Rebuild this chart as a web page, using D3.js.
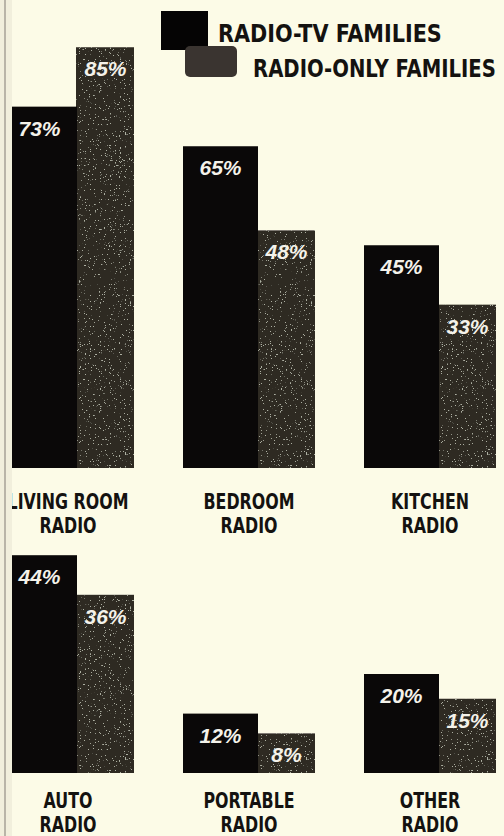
<!DOCTYPE html>
<html>
<head>
<meta charset="utf-8">
<script src="https://cdn.jsdelivr.net/npm/d3@7"></script>
<style>
  html, body { margin: 0; padding: 0; background: #fcfbe7; }
  svg { display: block; }
  .legend-label { font-family: "Liberation Sans Narrow", "DejaVu Sans Condensed", sans-serif; font-weight: bold; font-size: 25px; fill: #141210; }
  .cat-label { font-family: "Liberation Sans Narrow", "DejaVu Sans Condensed", sans-serif; font-weight: bold; font-size: 21px; fill: #141210; }
  .value-label { font-family: "Liberation Sans", Arial, sans-serif; font-style: italic; font-weight: bold; font-size: 21px; fill: #f4f2ea; }
</style>
</head>
<body>
<svg id="chart"></svg>
<script>
const WIDTH = 504;
const HEIGHT = 836;

// Valores (porcentaje de familias)
const categories = ['LIVING ROOM', 'BEDROOM', 'KITCHEN', 'AUTO', 'PORTABLE', 'OTHER'];
const categorySuffix = 'RADIO';
const radioTv = [73, 65, 45, 44, 12, 20];
const radioOnly = [85, 48, 33, 36, 8, 15];
const seriesNames = ['RADIO-TV FAMILIES', 'RADIO-ONLY FAMILIES'];

const COLOR_TV = '#0a0808';
const COLOR_ONLY = '#2f2924';
const TV_WIDTH = 75;
const ONLY_WIDTH = 57;
const ROW_BASELINES = [468, 773];
// la fila de abajo queda casi recortada por el borde de la página
const LABEL_LINES = [[41, 65], [35, 59]];

const svg = d3.select('#chart').attr('width', WIDTH).attr('height', HEIGHT);

svg.append('rect').attr('width', WIDTH).attr('height', HEIGHT).attr('fill', '#fcfbe7');

// Grano ligero del papel impreso sobre las barras de "radio only".
const defs = svg.append('defs');
const grain = defs.append('filter').attr('id', 'grain').attr('x', 0).attr('y', 0).attr('width', 1).attr('height', 1);
grain.append('feTurbulence').attr('type', 'fractalNoise').attr('baseFrequency', 0.8).attr('numOctaves', 2).attr('seed', 4).attr('result', 'noise');
grain.append('feColorMatrix').attr('in', 'noise').attr('type', 'matrix')
  .attr('values', '0 0 0 0 0.42  0 0 0 0 0.43  0 0 0 0 0.36  0 0 0 -20 6.4')
  .attr('result', 'specks');
grain.append('feComposite').attr('in', 'specks').attr('in2', 'SourceGraphic').attr('operator', 'in').attr('result', 'clipped');
const merge = grain.append('feMerge');
merge.append('feMergeNode').attr('in', 'SourceGraphic');
merge.append('feMergeNode').attr('in', 'clipped');

const col = d3.scalePoint().domain([0, 1, 2]).range([68, 430]);
// altura en píxeles por porcentaje
const h = d3.scaleLinear().domain([0, 100]).range([0, 495]);

const rows = categories.map((name, i) => ({
  name,
  row: Math.floor(i / 3),
  col: i % 3,
  tv: radioTv[i],
  only: radioOnly[i]
}));

const groups = svg.append('g')
  .selectAll('g.group')
  .data(rows)
  .join('g')
  .attr('class', 'group')
  .attr('transform', (d) => `translate(${col(d.col)},${ROW_BASELINES[d.row]})`);

const left = -(TV_WIDTH + ONLY_WIDTH) / 2;

groups.append('rect')
  .attr('x', left + TV_WIDTH - 1)
  .attr('y', (d) => -h(d.only))
  .attr('width', ONLY_WIDTH + 1)
  .attr('height', (d) => h(d.only))
  .attr('fill', COLOR_ONLY)
  .attr('filter', 'url(#grain)');

groups.append('rect')
  .attr('x', left)
  .attr('y', (d) => -h(d.tv))
  .attr('width', TV_WIDTH)
  .attr('height', (d) => h(d.tv))
  .attr('fill', COLOR_TV);

groups.append('text')
  .attr('class', 'value-label')
  .attr('text-anchor', 'middle')
  .attr('x', left + TV_WIDTH / 2)
  .attr('y', (d) => -h(d.tv) + 29)
  .text((d) => `${d.tv}%`);

groups.append('text')
  .attr('class', 'value-label')
  .attr('text-anchor', 'middle')
  .attr('x', left + TV_WIDTH + ONLY_WIDTH / 2)
  .attr('y', (d) => -h(d.only) + 29)
  .text((d) => `${d.only}%`);

const labels = groups.append('text')
  .attr('class', 'cat-label')
  .attr('text-anchor', 'middle')
  .attr('transform', 'scale(0.84,1)');
labels.append('tspan').attr('x', 0).attr('y', (d) => LABEL_LINES[d.row][0]).text((d) => d.name);
labels.append('tspan').attr('x', 0).attr('y', (d) => LABEL_LINES[d.row][1]).text(categorySuffix);

// Leyenda
const legend = svg.append('g');
legend.append('rect').attr('x', 161).attr('y', 11).attr('width', 47).attr('height', 39).attr('fill', '#050404');
legend.append('rect').attr('x', 185).attr('y', 46).attr('width', 52).attr('height', 31).attr('rx', 5).attr('fill', '#3a3430');

// El tipo del original es más estrecho: se comprime en horizontal hasta el ancho medido.
function fitText(x, y, width, text) {
  const t = legend.append('text').attr('class', 'legend-label').text(text);
  const k = width / t.node().getComputedTextLength();
  t.attr('transform', `translate(${x},${y}) scale(${k},1)`);
}
fitText(218, 42, 224, seriesNames[0]);
fitText(253, 77, 243, seriesNames[1]);

// Borde del escaneo a la izquierda
svg.append('rect').attr('x', 0).attr('y', 0).attr('width', 12).attr('height', HEIGHT).attr('fill', '#f1efdc');
svg.append('rect').attr('x', 4).attr('y', 0).attr('width', 2).attr('height', HEIGHT).attr('fill', '#b9b5a8');
</script>
</body>
</html>
